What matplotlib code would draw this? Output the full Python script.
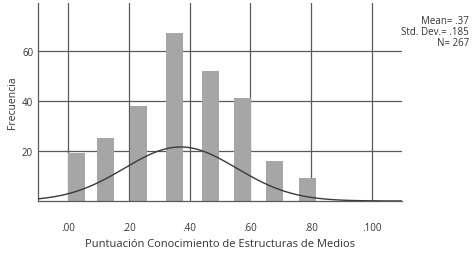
import numpy as np
import matplotlib
matplotlib.use("Agg")
import matplotlib.pyplot as plt

# Data
bin_centers = [0.028, 0.121, 0.232, 0.351, 0.468, 0.573, 0.679, 0.788]
counts = [19, 25, 38, 67, 52, 41, 16, 9]
x_ticks = [0.0, 0.2, 0.4, 0.6, 0.8, 1.0]
x_tick_labels = [".00", ".20", ".40", ".60", ".80", ".100"]
y_ticks = [20, 40, 60]
y_tick_labels = ["20", "40", "60"]
mean, sd, n = 0.37, 0.185, 267
curve_scale = 10.0  # area scale of fitted normal curve

plt.rcParams['font.family'] = ['Open Sans', 'DejaVu Sans']

fig = plt.figure(figsize=(4.76, 2.55), dpi=100)
ax = fig.add_axes([38/476, 53/255, (402-38)/476, (202-4)/255])

ax.bar(bin_centers, counts, width=0.056, color="#a6a6a6", zorder=2)

xs = np.linspace(-0.1, 1.1, 400)
pdf = np.exp(-0.5 * ((xs - mean) / sd) ** 2) / (sd * np.sqrt(2 * np.pi))
ax.plot(xs, curve_scale * pdf, color="#3a3a3a", lw=1.0, zorder=3)

ax.set_xlim(-0.1, 1.1)
ax.set_ylim(0, 79)
ax.set_xticks(x_ticks)
ax.set_xticklabels(x_tick_labels, fontsize=7, color="#333333")
ax.set_yticks(y_ticks)
ax.set_yticklabels(y_tick_labels, fontsize=7, color="#333333")
ax.tick_params(axis='both', length=0)
ax.tick_params(axis='x', pad=15)
ax.tick_params(axis='y', pad=3.5)
ax.grid(True, color="#5a5a5a", lw=0.9, zorder=0)
ax.set_axisbelow(True)
for s in ["top", "right"]:
    ax.spines[s].set_visible(False)
for s in ["left", "bottom"]:
    ax.spines[s].set_color("#5a5a5a")
    ax.spines[s].set_linewidth(0.9)

ax.set_xlabel("Puntuación Conocimiento de Estructuras de Medios", fontsize=8, color="#333333", labelpad=4)
ax.set_ylabel("Frecuencia", fontsize=7.5, color="#333333", labelpad=3)

fig.text(469/476, 1 - 16/255, "Mean= .37\nStd. Dev.= .185\nN= 267", ha="right", va="top",
         fontsize=7, color="#333333", linespacing=1.0)

fig.savefig("out.png", dpi=100)
